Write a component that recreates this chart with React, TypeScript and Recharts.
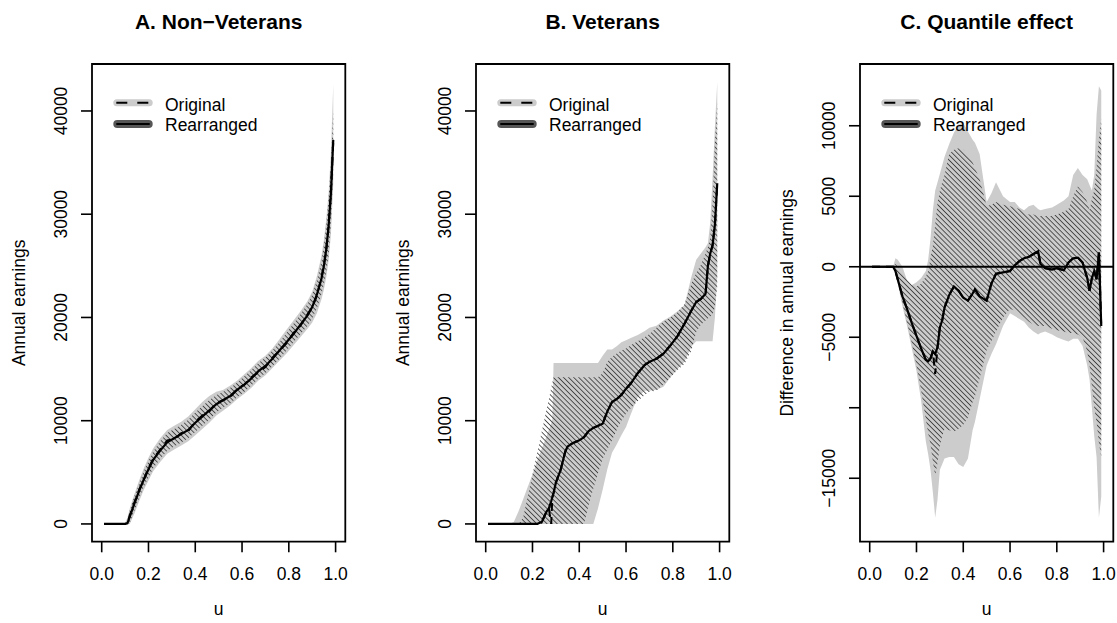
import React from 'react';
import { ComposedChart, Area, Line, XAxis, YAxis, ReferenceLine, ReferenceArea } from 'recharts';

// ---------- Panel A: Non-Veterans ----------
const uA = [0.01,0.05,0.09,0.10,0.11,0.12,0.14,0.16,0.18,0.20,0.22,0.25,0.28,0.31,0.34,0.37,0.40,0.43,0.46,0.49,0.52,0.55,0.58,0.61,0.64,0.67,0.70,0.73,0.76,0.79,0.82,0.85,0.88,0.90,0.92,0.94,0.95,0.96,0.97,0.98,0.99];
const rearrA = [0,0,0,0,50,700,2000,3200,4300,5300,6200,7100,7900,8300,8700,9100,9800,10400,11000,11600,12000,12400,13000,13500,14100,14800,15300,16000,16800,17600,18400,19300,20200,21000,22200,23800,25000,26600,28800,32000,37200];
const origA = [0,0,0,0,100,800,2100,3300,4300,5400,6300,7200,8100,8200,8800,9000,9900,10500,10900,11700,12000,12300,13100,13500,14200,14700,15200,16100,16800,17500,18500,19200,20300,21000,22100,23900,25100,26500,28900,32200,37000];
const grayHiA = [0,0,0,100,600,1500,2900,4200,5400,6400,7300,8300,9100,9500,9900,10400,11100,11800,12400,12800,13000,13400,13900,14500,15100,15800,16300,17000,17900,18800,19700,20600,21600,22500,24000,26000,27500,29500,32000,36000,42600];
const grayLoA = [0,0,0,0,0,0,1000,2200,3300,4200,5100,6000,6800,7200,7600,8000,8600,9200,9800,10500,11000,11500,12100,12600,13200,13900,14400,15100,15800,16500,17300,18100,18900,19500,20400,21800,22700,23900,25500,28000,33000];
const hatchHiA = [0,0,0,50,400,1300,2700,3900,5100,6100,7000,8000,8800,9200,9600,10100,10800,11400,12000,12500,12800,13200,13700,14300,14900,15600,16100,16800,17600,18500,19400,20300,21300,22200,23600,25500,27000,29000,31500,35000,40000];
const hatchLoA = [0,0,0,0,0,100,1300,2500,3600,4500,5400,6300,7100,7500,7900,8300,8900,9500,10100,10800,11300,11700,12300,12800,13400,14100,14600,15300,16000,16800,17600,18400,19200,19900,20900,22300,23200,24400,26000,29000,34000];

// ---------- Panel B: Veterans ----------
const uB = [0.01,0.05,0.10,0.12,0.14,0.16,0.18,0.20,0.22,0.24,0.25,0.26,0.27,0.28,0.285,0.29,0.30,0.32,0.34,0.35,0.37,0.40,0.42,0.44,0.46,0.48,0.50,0.52,0.54,0.56,0.58,0.60,0.62,0.65,0.68,0.70,0.73,0.76,0.79,0.82,0.85,0.88,0.90,0.92,0.94,0.95,0.96,0.97,0.98,0.99];
const rearrB = [0,0,0,0,0,0,0,0,0,200,700,1200,1500,2200,2600,3000,4000,5200,7000,7500,7800,8100,8400,9000,9300,9500,9700,10900,11800,12100,12500,13100,13600,14600,15400,15700,16000,16500,17300,18200,19400,20700,21500,21800,22300,25000,26200,27000,29000,33000];
const origB = [0,0,0,0,0,0,0,0,0,200,700,1200,1500,0,2600,3000,4000,5200,7000,7500,7800,8100,8400,9000,9300,9500,9700,10900,11800,12100,12500,13100,13600,14600,15400,15700,16000,16500,17300,18200,19400,20700,21500,21800,22300,25000,26200,27000,29000,33000];
const grayHiB = [0,0,0,200,1200,2400,3600,4800,6100,7300,7900,8500,9100,9700,10100,15600,15600,15600,15600,15600,15600,15600,15600,15600,15600,15600,16300,16900,16900,17200,17600,17800,18000,18300,18700,19000,19200,19700,20100,20600,21200,24000,25600,26200,26800,27200,29200,33500,38500,42800];
const grayLoB = [0,0,0,0,0,0,0,0,0,0,0,0,0,0,0,0,0,0,0,0,0,0,0,0,0,1500,3300,5300,6900,7700,8600,9400,10600,12300,12900,12900,13000,13300,14200,15000,15700,17200,17700,17700,17700,17700,17700,17700,20000,24000];
const hatchHiB = [0,0,0,0,0,600,2700,4800,6900,9000,10000,11100,12100,13200,13700,14200,14200,14200,14200,14200,14200,14200,14200,14200,14200,14200,14600,15700,16200,16500,16800,17000,17300,17700,18100,18400,19000,19600,20000,20500,21300,23300,24300,25100,26200,26800,27700,31000,37000,40800];
const hatchLoB = [0,0,0,0,0,0,0,0,0,0,0,0,0,0,0,0,0,0,0,0,0,0,0,1800,3400,4900,6300,7200,8100,9100,10000,10700,11200,11900,12500,12800,12900,13500,14200,14900,15500,16800,18600,19300,19700,19900,20100,20300,21000,23000];

// ---------- Panel C: Quantile effect ----------
const uC = [0.01,0.05,0.10,0.11,0.12,0.14,0.16,0.18,0.20,0.22,0.24,0.25,0.26,0.27,0.28,0.29,0.30,0.31,0.32,0.34,0.36,0.38,0.40,0.42,0.44,0.45,0.47,0.50,0.52,0.54,0.57,0.60,0.62,0.64,0.66,0.68,0.70,0.72,0.73,0.75,0.78,0.80,0.83,0.85,0.87,0.89,0.91,0.93,0.94,0.95,0.96,0.97,0.98,0.99];
const rearrC = [0,0,0,-300,-900,-2100,-3000,-4000,-4900,-5800,-6600,-6700,-6500,-6000,-6200,-5700,-4300,-3800,-2900,-2000,-1400,-1700,-2200,-2400,-1900,-1600,-2100,-2400,-1200,-500,-400,-300,100,400,600,700,900,1100,200,-100,-200,-100,-250,300,600,650,300,-800,-1700,-800,-300,-900,1000,-4200];
const origC = [0,0,0,-300,-900,-2100,-3000,-4000,-4900,-5800,-6600,-6700,-6500,-6000,-7600,-5700,-4300,-3800,-2900,-2000,-1400,-1700,-2200,-2400,-1900,-1600,-2100,-2400,-1200,-500,-400,-300,100,400,600,700,900,1100,200,-100,-200,-100,-250,300,600,650,300,-800,-1700,-800,-300,-900,1000,-4200];
const grayHiC = [0,0,0,600,500,0,-1000,-1300,-1100,-800,-300,500,2000,4000,5400,6000,6600,7200,7800,8700,9500,10100,10200,9600,9000,8800,8000,4600,5200,6000,5000,4600,4600,4200,4000,4300,4400,4100,4000,4100,4200,4400,4700,5000,6500,7000,6500,6200,5800,5400,6500,10800,12800,12500];
const grayLoC = [0,0,0,-600,-1200,-2800,-4200,-5800,-7400,-9500,-12400,-13300,-14400,-16000,-17800,-16500,-14400,-14000,-13600,-13500,-13500,-14000,-14200,-13600,-11600,-11000,-9400,-7000,-6200,-5500,-4200,-3300,-3500,-3700,-3900,-4300,-4600,-4800,-4700,-4600,-4800,-5000,-5200,-5300,-5100,-5100,-5600,-7000,-8000,-10000,-12000,-13500,-17800,-16300];
const hatchHiC = [0,0,0,200,0,-500,-900,-1300,-1400,-1200,-700,-300,600,1500,3000,4500,5400,6000,6500,8000,8300,8400,8300,7900,7400,7000,6200,4300,4400,4600,4400,4300,4200,4100,3800,3700,3700,3600,3600,3600,3600,3700,3900,4100,5000,5700,5300,4600,4000,4800,5400,7100,9000,10500];
const hatchLoC = [0,0,0,-500,-1000,-2600,-4000,-5400,-7000,-8800,-10800,-11800,-12600,-13800,-14800,-13900,-12700,-12000,-11500,-11600,-11700,-11500,-11200,-10700,-9600,-9200,-7900,-5900,-5300,-4600,-3600,-3000,-3100,-3400,-3600,-3900,-4100,-4200,-4200,-4200,-4400,-4500,-4600,-4700,-4700,-4800,-5000,-6000,-7000,-8500,-10000,-11000,-12500,-13500];

// ---------- Axes ----------
const xTicks = [0, 0.2, 0.4, 0.6, 0.8, 1.0];
const yTicksAB = [0, 10000, 20000, 30000, 40000];
const yTicksC = [-15000, -10000, -5000, 0, 5000, 10000];
const yHiddenC = [-10000];
const titles = ['A. Non\u2212Veterans', 'B. Veterans', 'C. Quantile effect'];
const yLabels = ['Annual earnings', 'Annual earnings', 'Difference in annual earnings'];
const legendLabels = ['Original', 'Rearranged'];

// ---------- Layout ----------
const FONT = '"Liberation Sans", Arial, Helvetica, sans-serif';
const FS = 17.5;
const PLOT_LEFT = 92;
const PLOT_TOP = 64;
const PLOT_W = 253.3;
const PLOT_H = 477.7;
const CHART_H = 623;
const PANEL_STEP = 384;
const X_DOMAIN: [number, number] = [-0.0415, 1.0415];
const HATCH = 3.6;

function buildRows(u: number[], orig: number[], rearr: number[], gLo: number[], gHi: number[], hLo: number[], hHi: number[]) {
  return u.map((x, i) => ({
    u: x,
    orig: orig[i],
    rearr: rearr[i],
    gray: [gLo[i], gHi[i]],
    hatch: [hLo[i], hHi[i]],
  }));
}

const panels = [
  { id: 'A', rows: buildRows(uA, origA, rearrA, grayLoA, grayHiA, hatchLoA, hatchHiA), yDomain: [-1720, 44550] as [number, number], yTicks: yTicksAB, hidden: [] as number[], zero: false },
  { id: 'B', rows: buildRows(uB, origB, rearrB, grayLoB, grayHiB, hatchLoB, hatchHiB), yDomain: [-1720, 44550] as [number, number], yTicks: yTicksAB, hidden: [] as number[], zero: false },
  { id: 'C', rows: buildRows(uC, origC, rearrC, grayLoC, grayHiC, hatchLoC, hatchHiC), yDomain: [-19500, 14380] as [number, number], yTicks: yTicksC, hidden: yHiddenC, zero: true },
];

const fmtY = (v: number) => (v < 0 ? '\u2212' + Math.abs(v) : String(v));

const XTick = (props: any) => {
  const { x, y, payload } = props;
  return (
    <text x={x} y={y + 27.7} textAnchor="middle" fontFamily={FONT} fontSize={FS} fill="#000">
      {Number(payload.value).toFixed(1)}
    </text>
  );
};

const makeYTick = (hidden: number[]) => (props: any) => {
  const { x, y, payload } = props;
  if (hidden.includes(payload.value)) return <g />;
  const bx = x - 14;
  return (
    <text x={bx} y={y} transform={`rotate(-90, ${bx}, ${y})`} textAnchor="middle" fontFamily={FONT} fontSize={FS} fill="#000">
      {fmtY(payload.value)}
    </text>
  );
};

function Panel({ idx, width }: { idx: number; width: number }) {
  const p = panels[idx];
  const right = width - PLOT_LEFT - PLOT_W;
  const cx = PLOT_LEFT + PLOT_W / 2;
  const cy = PLOT_TOP + PLOT_H / 2;
  const lx0 = PLOT_LEFT + 21.3;
  const lx1 = PLOT_LEFT + 60.7;
  const ly0 = PLOT_TOP + 38.7;
  const ly1 = PLOT_TOP + 60;
  const hid = 'hatch' + p.id;
  return (
    <div style={{ position: 'absolute', left: idx * PANEL_STEP, top: 0, width, height: CHART_H }}>
      <ComposedChart width={width} height={CHART_H} data={p.rows} margin={{ top: PLOT_TOP, right, bottom: 0, left: 0 }}>
        <defs>
          <pattern id={hid} patternUnits="userSpaceOnUse" width={HATCH} height={HATCH} patternTransform="rotate(-45)">
            <line x1={0} y1={0} x2={0} y2={HATCH} stroke="#333333" strokeWidth={1.6} />
          </pattern>
        </defs>
        <XAxis
          dataKey="u"
          type="number"
          domain={X_DOMAIN}
          allowDataOverflow
          ticks={xTicks}
          height={CHART_H - PLOT_TOP - PLOT_H}
          axisLine={false}
          tickLine={{ stroke: '#000', strokeWidth: 1.6 }}
          tickSize={10.6}
          tickMargin={0}
          tick={XTick}
          interval={0}
        />
        <YAxis
          type="number"
          domain={p.yDomain}
          allowDataOverflow
          ticks={p.yTicks}
          width={PLOT_LEFT}
          axisLine={false}
          tickLine={{ stroke: '#000', strokeWidth: 1.6 }}
          tickSize={11}
          tickMargin={0}
          tick={makeYTick(p.hidden)}
          interval={0}
        />
        <Area dataKey="gray" type="linear" stroke="none" fill="#cccccc" fillOpacity={1} isAnimationActive={false} dot={false} activeDot={false} />
        <Area dataKey="hatch" type="linear" stroke="none" fill={`url(#${hid})`} fillOpacity={1} isAnimationActive={false} dot={false} activeDot={false} />
        <Line dataKey="orig" type="linear" stroke="#000" strokeWidth={2} strokeDasharray="8 6" dot={false} activeDot={false} isAnimationActive={false} />
        <Line dataKey="rearr" type="linear" stroke="#000" strokeWidth={2.2} dot={false} activeDot={false} isAnimationActive={false} />
        {p.zero && <ReferenceLine y={0} stroke="#000" strokeWidth={2} ifOverflow="visible" />}
        <ReferenceArea x1={X_DOMAIN[0]} x2={X_DOMAIN[1]} y1={p.yDomain[0]} y2={p.yDomain[1]} fill="none" fillOpacity={0} stroke="#000" strokeWidth={1.8} ifOverflow="visible" />
      </ComposedChart>
      <svg width={width} height={CHART_H} style={{ position: 'absolute', left: 0, top: 0, pointerEvents: 'none' }}>
        <text x={cx} y={29} textAnchor="middle" fontFamily={FONT} fontSize={21} fontWeight="bold" fill="#000">{titles[idx]}</text>
        <text x={cx} y={615} textAnchor="middle" fontFamily={FONT} fontSize={FS} fill="#000">u</text>
        <text x={25} y={cy} transform={`rotate(-90, 25, ${cy})`} textAnchor="middle" fontFamily={FONT} fontSize={FS} fill="#000">{yLabels[idx]}</text>
        <line x1={lx0 + 3.5} y1={ly0} x2={lx1 - 3.5} y2={ly0} stroke="#cccccc" strokeWidth={7} strokeLinecap="round" />
        <line x1={lx0 + 3} y1={ly0} x2={lx1 - 3} y2={ly0} stroke="#000" strokeWidth={2} strokeDasharray="11 10" />
        <line x1={lx0 + 4} y1={ly1} x2={lx1 - 4} y2={ly1} stroke="#555555" strokeWidth={8} strokeLinecap="round" />
        <line x1={lx0 + 3} y1={ly1} x2={lx1 - 3} y2={ly1} stroke="#000" strokeWidth={2.2} />
        <text x={PLOT_LEFT + 73} y={PLOT_TOP + 47} fontFamily={FONT} fontSize={FS} fill="#000">{legendLabels[0]}</text>
        <text x={PLOT_LEFT + 73} y={PLOT_TOP + 67} fontFamily={FONT} fontSize={FS} fill="#000">{legendLabels[1]}</text>
      </svg>
    </div>
  );
}

export default function App() {
  return (
    <div style={{ position: 'absolute', left: 0, top: 0, width: 1117, height: CHART_H, overflow: 'hidden', background: '#fff' }}>
      <Panel idx={0} width={PANEL_STEP} />
      <Panel idx={1} width={PANEL_STEP} />
      <Panel idx={2} width={1117 - 2 * PANEL_STEP} />
    </div>
  );
}
